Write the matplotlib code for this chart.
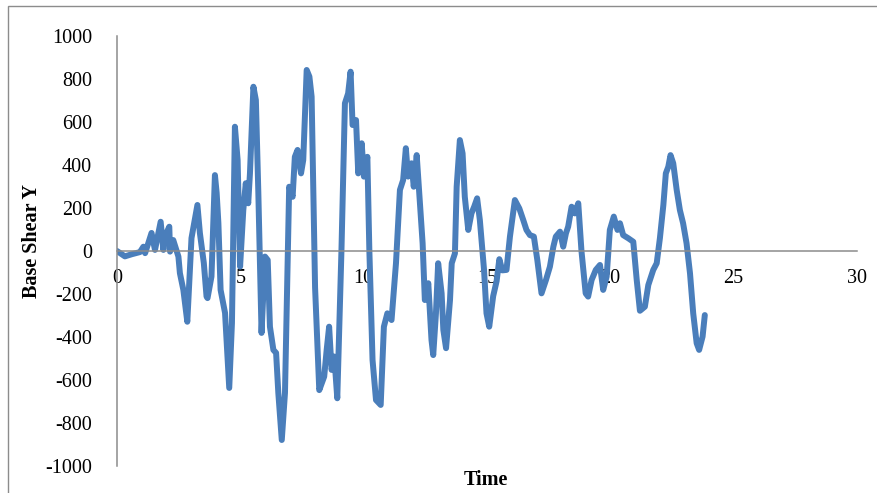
#!/usr/bin/env python3
import numpy as np
import matplotlib.pyplot as plt
from matplotlib.patches import Rectangle

# time (s) and base shear
time = [0.0, 0.32, 0.6, 0.93, 1.07, 1.14, 1.4, 1.54, 1.77, 1.88, 1.95, 2.12, 2.15, 2.28,
        2.49, 2.55, 2.69, 2.85, 3.02, 3.26, 3.36, 3.52, 3.63, 3.67, 3.83, 3.97, 4.04,
        4.11, 4.2, 4.38, 4.55, 4.66, 4.78, 4.89, 4.99, 5.12, 5.22, 5.32, 5.39, 5.53,
        5.63, 5.73, 5.86, 6.0, 6.11, 6.2, 6.34, 6.45, 6.54, 6.68, 6.81, 6.98, 7.12,
        7.21, 7.32, 7.46, 7.55, 7.69, 7.8, 7.89, 8.03, 8.2, 8.4, 8.5, 8.6, 8.7, 8.81,
        8.93, 9.1, 9.24, 9.37, 9.47, 9.55, 9.69, 9.78, 9.92, 10.01, 10.15, 10.23,
        10.36, 10.5, 10.69, 10.82, 10.96, 11.13, 11.31, 11.47, 11.6, 11.71, 11.8,
        11.94, 12.03, 12.15, 12.28, 12.39, 12.48, 12.62, 12.75, 12.82, 12.93, 13.02,
        13.16, 13.23, 13.34, 13.5, 13.57, 13.7, 13.77, 13.9, 14.01, 14.1, 14.24,
        14.37, 14.48, 14.6, 14.71, 14.88, 14.98, 15.09, 15.25, 15.39, 15.5, 15.62,
        15.79, 15.93, 16.13, 16.31, 16.47, 16.6, 16.74, 16.9, 17.04, 17.21, 17.39,
        17.55, 17.69, 17.79, 17.96, 18.09, 18.2, 18.29, 18.43, 18.56, 18.7, 18.83,
        19.0, 19.1, 19.24, 19.41, 19.58, 19.71, 19.85, 19.98, 20.14, 20.29, 20.39,
        20.52, 20.73, 20.93, 21.07, 21.2, 21.4, 21.54, 21.74, 21.88, 22.01, 22.15,
        22.25, 22.35, 22.44, 22.55, 22.69, 22.82, 22.95, 23.09, 23.23, 23.36, 23.5,
        23.6, 23.74, 23.83]
shear = [0, -25, -15, -5, 20, -10, 84, 5, 136, 5, 70, 113, -3, 51,
         -26, -103, -181, -329, 60, 214, 84, -56, -212, -219, -119, 353, 270,
         130, -181, -288, -637, -335, 578, 423, -73, 190, 315, 222, 361, 764,
         702, 270, -381, -26, -42, -352, -460, -474, -660, -879, -660, 299, 252,
         438, 470, 361, 423, 842, 811, 718, -170, -647, -584, -460, -352, -553, -491,
         -685, 5, 687, 733, 834, 586, 609, 361, 501, 346, 438, 5,
         -507, -693, -716, -352, -290, -321, -57, 284, 330, 478, 346,
         408, 299, 446, 222, 36, -228, -150, -414, -484, -290, -57,
         -197, -367, -452, -228, -57, -11, 299, 516, 454, 252, 98,
         175, 206, 245, 144, -88, -290, -352, -210, -140, -38, -90,
         -88, 67, 237, 198, 144, 98, 74, 67, -42, -197, -135,
         -73, 20, 67, 90, 20, 82, 113, 206, 175, 222, 0,
         -197, -212, -135, -88, -65, -181, -119, 98, 160, 98, 129,
         74, 59, 43, -135, -278, -259, -158, -88, -57, 60, 214,
         361, 392, 446, 408, 284, 190, 129, 36, -104, -290, -429,
         -460, -398, -298]

xticks = [0, 5, 10, 15, 20, 25, 30]
yticks = np.arange(-1000, 1001, 200)

plt.rcParams['font.family'] = ['Liberation Serif', 'DejaVu Serif']
plt.rcParams['axes.unicode_minus'] = False

fig = plt.figure(figsize=(8.77, 4.93), dpi=100)
ax = fig.add_axes([117/877, 1-466/493, 740/877, 430/493])

ax.plot(time, shear, color='#4a7ebb', lw=4.3, solid_joinstyle='round', solid_capstyle='round')

ax.set_xlim(0, 30)
ax.set_ylim(-1000, 1000)
ax.set_xticks(xticks)
ax.set_yticks(yticks)
ax.spines['bottom'].set_position(('data', 0))
for s in ['top', 'right']:
  ax.spines[s].set_visible(False)
for s in ['left', 'bottom']:
  ax.spines[s].set_color('#8c8c8c')
  ax.spines[s].set_linewidth(1.1)
ax.tick_params(axis='x', length=0, pad=13, labelsize=14.5)
ax.tick_params(axis='y', length=0, pad=18, labelsize=14.5)

fig.text(32/877, 1-241/493, 'Base Shear Y', rotation=90, fontsize=14.5, fontweight='bold',
         ha='center', va='center')
fig.text(486/877, 1-480/493, 'Time', fontsize=14.5, fontweight='bold', ha='center', va='center')

fig.add_artist(Rectangle((8/877, -0.1), 1.2, 1-6/493+0.1, transform=fig.transFigure,
                         fill=False, edgecolor='#8c8c8c', lw=1.0))

plt.savefig('out.png', dpi=100)
